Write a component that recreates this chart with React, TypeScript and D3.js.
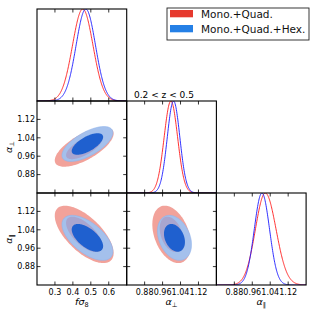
import * as d3 from "d3";

// parameters: fσ8, α⊥, α∥
const DOMAINS: [number, number][] = [
  [0.2, 0.7],
  [0.8, 1.2],
  [0.8, 1.2],
];
const TICKS = [
  [0.3, 0.4, 0.5, 0.6],
  [0.88, 0.96, 1.04, 1.12],
  [0.88, 0.96, 1.04, 1.12],
];
const TICK_FORMATS = [d3.format(".1f"), d3.format(".2f"), d3.format(".2f")];
const MODELS = ["Mono.+Quad.", "Mono.+Quad.+Hex."];

// 1D marginals (peak, left / right width)
const PEAK_RED = [0.455, 0.997, 1.018];
const SIG_LO_RED = [0.057, 0.03, 0.044];
const SIG_HI_RED = [0.057, 0.03, 0.048];
const PEAK_BLUE = [0.472, 1.009, 1.003];
const SIG_LO_BLUE = [0.054, 0.028, 0.034];
const SIG_HI_BLUE = [0.054, 0.028, 0.034];

// 2D contours: centre, width per parameter, correlation per pair
const MEAN2D_RED = [0.463, 1.0, 1.02];
const SIG2D_RED = [0.067, 0.035, 0.051];
const MEAN2D_BLUE = [0.481, 1.013, 1.005];
const SIG2D_BLUE = [0.058, 0.031, 0.04];
const PAIRS: [number, number][] = [
  [0, 1],
  [0, 2],
  [1, 2],
];
const RHO_RED = [0.68, -0.65, -0.35];
const RHO_BLUE = [0.65, -0.6, -0.3];
const LEVELS = [0.95, 0.68];

const FONT = "'DejaVu Sans', sans-serif";
const LEFT = 37;
const TOP = 9;
const PW = 89.7;
const PH = 92;
const TL = 3.5;

const colX = (c: number) => LEFT + c * PW;
const rowY = (r: number) => TOP + r * PH;

function ellipse(
  mx: number,
  my: number,
  sx: number,
  sy: number,
  rho: number,
  level: number
) {
  const k = Math.sqrt(-2 * Math.log(1 - level));
  return d3.range(0, 360, 3).map((deg) => {
    const t = (deg * Math.PI) / 180;
    return [
      mx + k * sx * Math.cos(t),
      my + k * sy * (rho * Math.cos(t) + Math.sqrt(1 - rho * rho) * Math.sin(t)),
    ] as [number, number];
  });
}

function Panel1D({ i }: { i: number }) {
  const x = d3.scaleLinear().domain(DOMAINS[i]).range([colX(i), colX(i) + PW]);
  const y = d3.scaleLinear().domain([0, 1]).range([rowY(i) + PH, rowY(i)]);
  const xs = d3.range(0, 301).map((k) => DOMAINS[i][0] + ((DOMAINS[i][1] - DOMAINS[i][0]) * k) / 300);
  const curve = (m: number, lo: number, hi: number) =>
    d3
      .line<number>()
      .x((v) => x(v))
      .y((v) => {
        const s = v < m ? lo : hi;
        return y(Math.exp(-0.5 * ((v - m) / s) ** 2));
      })(xs) ?? "";
  return (
    <g>
      <path d={curve(PEAK_RED[i], SIG_LO_RED[i], SIG_HI_RED[i])} fill="none" stroke="#ff1a1a" strokeWidth={0.9} />
      <path d={curve(PEAK_BLUE[i], SIG_LO_BLUE[i], SIG_HI_BLUE[i])} fill="none" stroke="#1a1aff" strokeWidth={0.9} />
      {TICKS[i].map((t) => (
        <g key={t}>
          <line x1={x(t)} x2={x(t)} y1={rowY(i)} y2={rowY(i) + TL} stroke="#000" strokeWidth={0.8} />
          <line x1={x(t)} x2={x(t)} y1={rowY(i) + PH} y2={rowY(i) + PH - TL} stroke="#000" strokeWidth={0.8} />
        </g>
      ))}
    </g>
  );
}

function Panel2D({ r, c }: { r: number; c: number }) {
  const x = d3.scaleLinear().domain(DOMAINS[c]).range([colX(c), colX(c) + PW]);
  const y = d3.scaleLinear().domain(DOMAINS[r]).range([rowY(r) + PH, rowY(r)]);
  const p = PAIRS.findIndex(([a, b]) => a === c && b === r);
  const line = d3
    .line<[number, number]>()
    .x((d) => x(d[0]))
    .y((d) => y(d[1]))
    .curve(d3.curveLinearClosed);
  const red = (lv: number) =>
    line(ellipse(MEAN2D_RED[c], MEAN2D_RED[r], SIG2D_RED[c], SIG2D_RED[r], RHO_RED[p], lv)) ?? "";
  const blue = (lv: number) =>
    line(ellipse(MEAN2D_BLUE[c], MEAN2D_BLUE[r], SIG2D_BLUE[c], SIG2D_BLUE[r], RHO_BLUE[p], lv)) ?? "";
  const clipId = `clip-${r}-${c}`;
  return (
    <g>
      <defs>
        <clipPath id={clipId}>
          <path d={blue(LEVELS[0])} />
        </clipPath>
      </defs>
      <path d={red(LEVELS[0])} fill="#f2a29a" />
      <path d={blue(LEVELS[0])} fill="#a4c0ec" stroke="#8fb3ec" strokeWidth={0.6} />
      <path d={red(LEVELS[1])} fill="#a9a5cf" clipPath={`url(#${clipId})`} />
      <path d={blue(LEVELS[1])} fill="#1f60cf" />
      {TICKS[c].map((t) => (
        <g key={"x" + t}>
          <line x1={x(t)} x2={x(t)} y1={rowY(r)} y2={rowY(r) + TL} stroke="#000" strokeWidth={0.8} />
          <line x1={x(t)} x2={x(t)} y1={rowY(r) + PH} y2={rowY(r) + PH - TL} stroke="#000" strokeWidth={0.8} />
        </g>
      ))}
      {TICKS[r].map((t) => (
        <g key={"y" + t}>
          <line x1={colX(c)} x2={colX(c) + TL} y1={y(t)} y2={y(t)} stroke="#000" strokeWidth={0.8} />
          <line x1={colX(c) + PW} x2={colX(c) + PW - TL} y1={y(t)} y2={y(t)} stroke="#000" strokeWidth={0.8} />
        </g>
      ))}
    </g>
  );
}

function AxisLabel({ i }: { i: number }) {
  const main = { fontStyle: "italic" as const };
  if (i === 0)
    return (
      <>
        <tspan {...main}>fσ</tspan>
        <tspan fontSize={6.5} dy={2}>8</tspan>
      </>
    );
  return (
    <>
      <tspan {...main}>α</tspan>
      <tspan fontSize={6.5} dy={2}>{i === 1 ? "⊥" : "∥"}</tspan>
    </>
  );
}

export default function App() {
  const cells: { r: number; c: number }[] = [];
  for (let r = 0; r < 3; r++) for (let c = 0; c <= r; c++) cells.push({ r, c });

  return (
    <svg
      width={315}
      height={316}
      style={{ position: "fixed", left: 0, top: 0, background: "#fff" }}
      fontFamily={FONT}
    >
      <defs>
        {cells.map(({ r, c }) => (
          <clipPath key={`p${r}${c}`} id={`panel-${r}-${c}`}>
            <rect x={colX(c)} y={rowY(r)} width={PW} height={PH} />
          </clipPath>
        ))}
      </defs>
      {cells.map(({ r, c }) => (
        <g key={`${r}${c}`} clipPath={`url(#panel-${r}-${c})`}>
          {r === c ? <Panel1D i={r} /> : <Panel2D r={r} c={c} />}
        </g>
      ))}
      {cells.map(({ r, c }) => (
        <rect
          key={`f${r}${c}`}
          x={colX(c)}
          y={rowY(r)}
          width={PW}
          height={PH}
          fill="none"
          stroke="#000"
          strokeWidth={1.1}
        />
      ))}

      {/* x tick labels on bottom row */}
      {[0, 1, 2].map((c) => {
        const x = d3.scaleLinear().domain(DOMAINS[c]).range([colX(c), colX(c) + PW]);
        return TICKS[c].map((t) => (
          <text key={`xt${c}${t}`} x={x(t)} y={295} fontSize={8} textAnchor="middle" fill="#000">
            {TICK_FORMATS[c](t)}
          </text>
        ));
      })}
      {/* y tick labels on left column */}
      {[1, 2].map((r) => {
        const y = d3.scaleLinear().domain(DOMAINS[r]).range([rowY(r) + PH, rowY(r)]);
        return TICKS[r].map((t) => (
          <text key={`yt${r}${t}`} x={35} y={y(t)} dy="0.35em" fontSize={8} textAnchor="end" fill="#000">
            {TICK_FORMATS[r](t)}
          </text>
        ));
      })}

      {/* axis labels */}
      {[0, 1, 2].map((c) => (
        <text key={`xl${c}`} x={colX(c) + PW / 2} y={305} fontSize={9.5} textAnchor="middle">
          <AxisLabel i={c} />
        </text>
      ))}
      {[1, 2].map((r) => (
        <text
          key={`yl${r}`}
          transform={`translate(12,${rowY(r) + PH / 2}) rotate(-90)`}
          fontSize={9.5}
          textAnchor="middle"
        >
          <AxisLabel i={r} />
        </text>
      ))}

      <text x={134} y={97.5} fontSize={9}>
        0.2 &lt; z &lt; 0.5
      </text>

      {/* legend */}
      <rect x={167} y={8} width={142} height={32} fill="#fff" stroke="#222" strokeWidth={0.9} />
      {MODELS.map((m, k) => (
        <g key={m}>
          <rect x={170} y={10 + k * 15} width={23} height={7.3} fill={k === 0 ? "#e6392e" : "#2580e6"} />
          <text x={201} y={17.5 + k * 15} fontSize={10.5} fill="#111">
            {m}
          </text>
        </g>
      ))}
    </svg>
  );
}
